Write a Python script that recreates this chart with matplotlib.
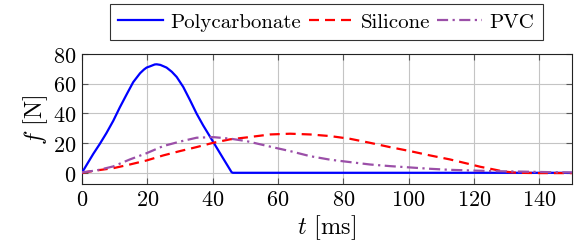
import matplotlib
matplotlib.use("Agg")
import matplotlib.pyplot as plt

plt.rcParams['font.family'] = 'cmr10'
plt.rcParams['mathtext.fontset'] = 'cm'
plt.rcParams['axes.unicode_minus'] = False
plt.rcParams['axes.formatter.use_mathtext'] = True

# Polycarbonate
t_pc = [0, 1.5, 3.5, 5.5, 7.5, 9.6, 11.6, 13.7, 15.7, 17.8, 19.0, 19.8, 20.8, 21.6, 22.3, 22.9,
        24.0, 25.9, 27.5, 29.0, 31.0, 33.1, 35.1, 37.1, 40.2, 43.3, 45.8, 46.2, 150]
f_pc = [0, 5.5, 12.8, 19.5, 26.7, 35.0, 44.0, 52.8, 61.0, 67.0, 69.5, 70.8, 71.6, 72.3, 72.9, 73.0,
        72.6, 70.8, 68.0, 64.5, 57.8, 48.8, 39.8, 31.9, 20.7, 9.4, 0.4, 0, 0]

# Silicone
t_si = [0, 4.5, 9.6, 14.7, 19.8, 24.9, 30.0, 35.1, 40.2, 45.3, 50.4, 57.6, 63.7,
        69.8, 76.0, 82.0, 88.1, 94.2, 100.4, 106.5, 112.6, 118.3, 122.0, 125.0,
        129.0, 133.0, 140.0, 150.0]
f_si = [0, 1.6, 3.1, 5.6, 8.3, 11.7, 14.6, 17.3, 20.2, 22.5, 23.8, 25.8, 26.3,
        25.8, 24.7, 22.9, 20.2, 17.3, 14.6, 11.7, 9.0, 6.0, 4.0, 2.7,
        0.9, 0.0, -0.2, -0.2]

# PVC
t_pvc = [0, 4.5, 9.6, 14.7, 19.8, 24.9, 30.0, 35.1, 40.2, 45.3, 50.4, 59.0, 63.7,
         69.8, 76.0, 82.0, 88.1, 94.2, 100.4, 106.5, 112.6, 118.3, 126.0, 132.0,
         144.0, 150.0]
f_pvc = [0.3, 1.6, 4.3, 9.0, 13.2, 18.0, 21.0, 23.6, 24.0, 23.0, 21.3, 16.9, 14.6,
         11.2, 8.8, 7.2, 5.6, 4.5, 3.6, 2.7, 2.0, 1.6, 1.1, 0.9,
         0.4, 0.2]

x_ticks = [0, 20, 40, 60, 80, 100, 120, 140]
y_ticks = [0, 20, 40, 60, 80]

fig = plt.figure(figsize=(5.85, 2.53), dpi=100)
ax = fig.add_axes([0.140, 0.269, 0.838, 0.514])

ax.plot(t_pc, f_pc, color='#0000ff', lw=1.6, label='Polycarbonate', zorder=3)
ax.plot(t_si, f_si, color='#ff0000', lw=1.6, ls=(0, (4.5, 2.7)), label='Silicone', zorder=3)
ax.plot(t_pvc, f_pvc, color='#9b4fa8', lw=1.6, ls=(0, (5, 2, 1, 2)), label='PVC', zorder=3)

ax.set_xlim(0, 150)
ax.set_ylim(-7.5, 80)
ax.set_xticks(x_ticks)
ax.set_yticks(y_ticks)
ax.grid(True, color='#c4c4c4', lw=0.8)
ax.set_axisbelow(True)
ax.tick_params(direction='in', top=True, right=True, length=4, width=0.8,
               color='#555555', labelsize=16, pad=4)
for s in ax.spines.values():
    s.set_linewidth(0.8)
    s.set_color('#222222')

ax.set_xlabel(r'$t$ [ms]', fontsize=17.5, labelpad=2)
ax.set_ylabel(r'$f$ [N]', fontsize=17.5, labelpad=2)

leg = fig.legend(loc='center', bbox_to_anchor=(0.558, 0.909),
                 ncol=3, fontsize=15, frameon=True, fancybox=False,
                 edgecolor='black', handlelength=2.15, handletextpad=0.35,
                 columnspacing=0.35, borderpad=0.4, borderaxespad=0)
leg.get_frame().set_linewidth(0.8)

fig.savefig('out.png', dpi=100)
